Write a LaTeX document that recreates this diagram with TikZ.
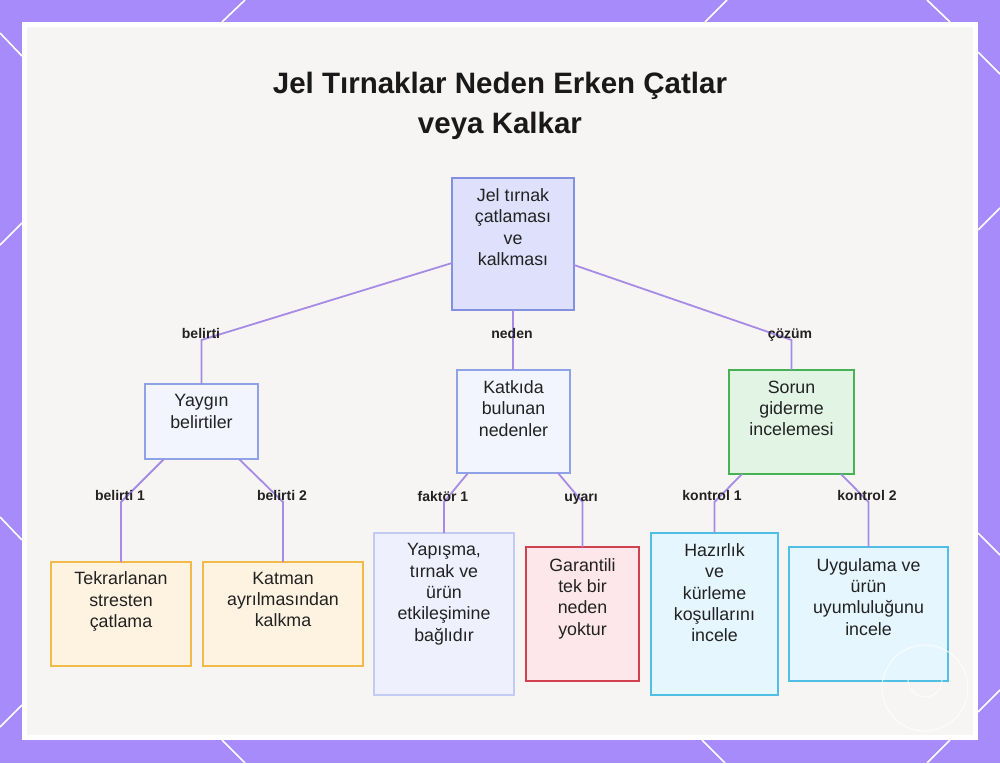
\documentclass[tikz,border=0pt]{standalone}
\usepackage{fontspec}
\setmainfont{Liberation Sans}
\definecolor{frame}{HTML}{A78BFA}
\definecolor{panel}{HTML}{F6F5F3}
\definecolor{edgec}{HTML}{A68BE6}
\definecolor{txtc}{HTML}{222222}
\definecolor{rootf}{HTML}{DFE1FC}\definecolor{rootd}{HTML}{8390E0}
\definecolor{midf}{HTML}{F3F5FE}\definecolor{midd}{HTML}{8FA2E6}
\definecolor{yapf}{HTML}{EEF0FD}\definecolor{yapd}{HTML}{C3CBF2}
\definecolor{orgf}{HTML}{FEF3E1}\definecolor{orgd}{HTML}{F2BA48}
\definecolor{redf}{HTML}{FDE7EB}\definecolor{redd}{HTML}{D2414F}
\definecolor{grnf}{HTML}{E2F5E5}\definecolor{grnd}{HTML}{45B254}
\definecolor{cyaf}{HTML}{E5F6FE}\definecolor{cyad}{HTML}{4FC0E3}
\begin{document}
\begin{tikzpicture}[x=1pt,y=-1pt,
  boxstyle/.style={draw, line width=1.6pt, inner sep=0pt, outer sep=0pt},
  btxt/.style={anchor=north, inner sep=0pt, align=center, text=txtc,
    font=\fontsize{17.8}{21.3}\selectfont, execute at begin node=\strut},
  elabel/.style={inner sep=0pt, text=txtc, font=\fontsize{14}{16}\selectfont\bfseries,
    text height=10pt, text depth=0pt},
  edge/.style={draw=edgec, line width=1.8pt},
  deco/.style={draw=white, line width=1.6pt}]
\useasboundingbox (0,0) rectangle (1000,763);
\fill[frame] (0,0) rectangle (1000,763);
% decorative diagonals on the frame
\draw[deco] (222,22) -- (245,0);
\draw[deco] (705,22) -- (727,0);
\draw[deco] (927,0) -- (950,22);
\draw[deco] (0,33) -- (22,56);
\draw[deco] (0,245) -- (22,223);
\draw[deco] (0,517) -- (22,540);
\draw[deco] (0,727) -- (22,705);
\draw[deco] (978,52) -- (1000,74);
\draw[deco] (978,230) -- (1000,208);
\draw[deco] (978,533) -- (1000,555);
\draw[deco] (978,712) -- (1000,690);
\draw[deco] (222,740) -- (245,763);
\draw[deco] (702,740) -- (725,763);
\draw[deco] (950,740) -- (927,763);
% panel
\fill[white] (22,22) rectangle (978,740);
\fill[panel] (27,27) rectangle (973,735);
% title
\node[anchor=north, inner sep=0pt, align=center, text=black!90,
  font=\fontsize{29.5}{40}\selectfont\bfseries] (title) at (500,71.5)
  {Jel Tırnaklar Neden Erken Çatlar\\veya Kalkar};
% boxes
\node[boxstyle, fill=rootf, draw=rootd, minimum width=122pt, minimum height=132pt] (root) at (513,244) {};
\node[boxstyle, fill=midf, draw=midd, minimum width=113pt, minimum height=75pt] (yay) at (201.5,421.5) {};
\node[boxstyle, fill=midf, draw=midd, minimum width=113pt, minimum height=103pt] (kat) at (513.5,421.5) {};
\node[boxstyle, fill=grnf, draw=grnd, minimum width=125pt, minimum height=104pt] (sor) at (791.5,422) {};
\node[boxstyle, fill=orgf, draw=orgd, minimum width=140pt, minimum height=104pt] (tek) at (121,614) {};
\node[boxstyle, fill=orgf, draw=orgd, minimum width=160pt, minimum height=104pt] (ktm) at (283,614) {};
\node[boxstyle, fill=yapf, draw=yapd, minimum width=140pt, minimum height=162pt] (yap) at (444,614) {};
\node[boxstyle, fill=redf, draw=redd, minimum width=113pt, minimum height=134pt] (gar) at (582.5,614) {};
\node[boxstyle, fill=cyaf, draw=cyad, minimum width=127pt, minimum height=162pt] (haz) at (714.5,614) {};
\node[boxstyle, fill=cyaf, draw=cyad, minimum width=159pt, minimum height=134pt] (uyg) at (868.5,614) {};
% box texts
\node[btxt] (troot) at ([yshift=-10.4pt]root.north) {Jel tırnak\\çatlaması\\ve\\kalkması};
\node[btxt] (tyay) at ([yshift=-10.4pt]yay.north) {Yaygın\\belirtiler};
\node[btxt] (tkat) at ([yshift=-10.4pt]kat.north) {Katkıda\\bulunan\\nedenler};
\node[btxt] (tsor) at ([yshift=-10.4pt]sor.north) {Sorun\\giderme\\incelemesi};
\node[btxt] (ttek) at ([yshift=-9.8pt]tek.north) {Tekrarlanan\\stresten\\çatlama};
\node[btxt] (tktm) at ([yshift=-9.8pt]ktm.north) {Katman\\ayrılmasından\\kalkma};
\node[btxt] (tyap) at ([yshift=-10.4pt]yap.north) {Yapışma,\\tırnak ve\\ürün\\etkileşimine\\bağlıdır};
\node[btxt] (tgar) at ([yshift=-11pt]gar.north) {Garantili\\tek bir\\neden\\yoktur};
\node[btxt] (thaz) at ([yshift=-10.4pt]haz.north) {Hazırlık\\ve\\kürleme\\koşullarını\\incele};
\node[btxt] (tuyg) at ([yshift=-11pt]uyg.north) {Uygulama ve\\ürün\\uyumluluğunu\\incele};
% row coordinates for elbows
\coordinate (r1) at (0,340);
\coordinate (r2) at (0,502);
% connectors
\draw[edge] ([yshift=-19pt]root.west) -- (yay.north |- r1) -- (yay.north);
\draw[edge] (root.south) -- (root.south |- kat.north);
\draw[edge] ([yshift=-21pt]root.east) -- (sor.north |- r1) -- (sor.north);
\draw[edge] ([xshift=19pt]yay.south west) -- (tek.north |- r2) -- (tek.north);
\draw[edge] ([xshift=-19pt]yay.south east) -- (ktm.north |- r2) -- (ktm.north);
\draw[edge] ([xshift=11pt]kat.south west) -- (yap.north |- r2) -- (yap.north);
\draw[edge] ([xshift=-12pt]kat.south east) -- (gar.north |- r2) -- (gar.north);
\draw[edge] ([xshift=13pt]sor.south west) -- (haz.north |- r2) -- (haz.north);
\draw[edge] ([xshift=-13pt]sor.south east) -- (uyg.north |- r2) -- (uyg.north);
% connector labels
\node[elabel] (l1) at (201,333) {belirti};
\node[elabel] (l2) at (512,333) {neden};
\node[elabel] (l3) at (790,333) {çözüm};
\node[elabel] (l4) at (120,495) {belirti 1};
\node[elabel] (l5) at (282,495) {belirti 2};
\node[elabel] (l6) at (443,496) {faktör 1};
\node[elabel] (l7) at (581,496) {uyarı};
\node[elabel] (l8) at (712,495) {kontrol 1};
\node[elabel] (l9) at (867,495) {kontrol 2};
% faint watermark circle
\draw[white, opacity=0.85, line width=0.9pt] (925,688) circle[radius=43];
\draw[white, opacity=0.85, line width=0.9pt] (908,680) arc[start angle=180, end angle=0, radius=17];
\end{tikzpicture}
\end{document}
